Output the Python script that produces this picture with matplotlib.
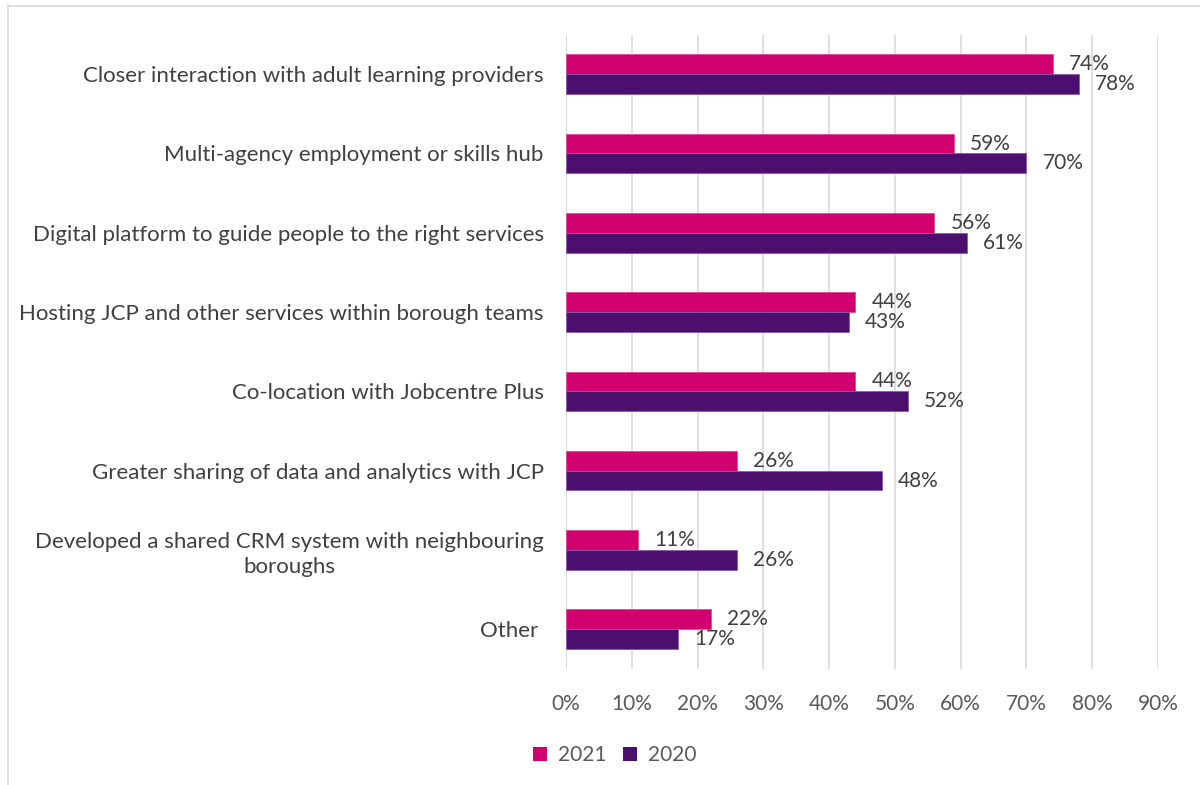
import matplotlib.pyplot as plt
from matplotlib.lines import Line2D
from matplotlib.patches import Patch
import numpy as np

plt.rcParams["font.family"] = ["Lato", "DejaVu Sans"]

categories = [
    "Closer interaction with adult learning providers",
    "Multi-agency employment or skills hub",
    "Digital platform to guide people to the right services",
    "Hosting JCP and other services within borough teams",
    "Co-location with Jobcentre Plus",
    "Greater sharing of data and analytics with JCP",
    "Developed a shared CRM system with neighbouring\nboroughs",
    "Other ",
]
values_2021 = [74, 59, 56, 44, 44, 26, 11, 22]
values_2020 = [78, 70, 61, 43, 52, 48, 26, 17]
series_names = ["2021", "2020"]
xticks = [0, 10, 20, 30, 40, 50, 60, 70, 80, 90]

pink = "#D0006F"
purple = "#4B0F6E"
grid_col = "#D9D9D9"
text_col = "#404040"
tick_col = "#595959"

fig = plt.figure(figsize=(12, 7.85), dpi=100)
ax = fig.add_axes([0.4717, 0.148, 0.4933, 0.808])

y = np.arange(len(categories))
h = 0.25
ax.barh(y - h / 2, values_2021, height=h, color=pink, edgecolor="#E04A98", linewidth=0.6, zorder=3)
ax.barh(y + h / 2, values_2020, height=h, color=purple, edgecolor="#8A5AA8", linewidth=0.6, zorder=3)

for yi, v in zip(y - h / 2, values_2021):
    ax.annotate(f"{v}%", (v, yi), xytext=(16, 0), textcoords="offset pixels",
                va="center", ha="left", fontsize=15, color=text_col)
for yi, v in zip(y + h / 2, values_2020):
    ax.annotate(f"{v}%", (v, yi), xytext=(16, 0), textcoords="offset pixels",
                va="center", ha="left", fontsize=15, color=text_col)

ax.set_xlim(0, 90)
ax.set_ylim(len(categories) - 0.5, -0.5)
ax.set_xticks(xticks)
ax.set_xticklabels([f"{t}%" for t in xticks], fontsize=15, color=tick_col)
ax.set_yticks(y)
ax.set_yticklabels(categories, fontsize=16, color=text_col, ha="right",
                   multialignment="center", linespacing=1.35)
ax.tick_params(axis="y", length=0, pad=16)
ax.tick_params(axis="x", length=0, pad=18)
ax.xaxis.grid(True, color=grid_col, linewidth=1.2, zorder=0)
for s in ax.spines.values():
    s.set_visible(False)
ax.axvline(0, color=grid_col, linewidth=1.2, zorder=1)

handles = [Patch(facecolor=pink), Patch(facecolor=purple)]
fig.legend(handles, series_names, loc="center", bbox_to_anchor=(0.512, 0.038),
           ncol=2, frameon=False, fontsize=15, labelcolor=tick_col,
           handlelength=0.7, handleheight=0.7, handletextpad=0.5, columnspacing=0.8)

# chart area border (top and left edges)
fig.add_artist(Line2D([8 / 1200, 1.0], [1 - 6 / 785, 1 - 6 / 785], color=grid_col, linewidth=1.2))
fig.add_artist(Line2D([8 / 1200, 8 / 1200], [0, 1 - 6 / 785], color=grid_col, linewidth=1.2))

fig.savefig("out.png", dpi=100)
